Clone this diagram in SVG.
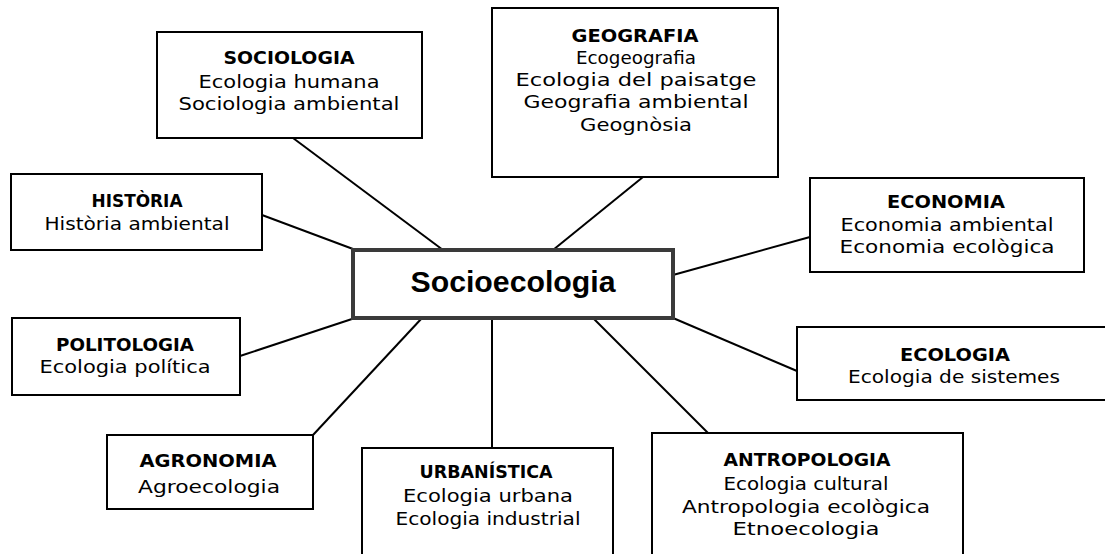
<svg xmlns="http://www.w3.org/2000/svg" width="1105" height="554" viewBox="0 0 1105 554">
<style>
.box{fill:#fff;stroke:#000;stroke-width:2}
.main{fill:#fff;stroke:#3a3a3a;stroke-width:4}
.t{font-family:"DejaVu Sans",sans-serif;font-size:18px;font-weight:bold;text-anchor:middle;fill:#000}
.l{font-family:"DejaVu Sans",sans-serif;font-size:18px;text-anchor:middle;fill:#000}
.c{font-family:"Liberation Sans",Arial,sans-serif;font-size:30px;font-weight:bold;text-anchor:middle;fill:#000}
.conn line{stroke:#000;stroke-width:2}
</style>
<rect width="1105" height="554" fill="#fff"/>
<g class="conn" id="connectors">
<line x1="293" y1="138" x2="443" y2="250"/>
<line x1="262" y1="215" x2="353" y2="249"/>
<line x1="643" y1="177" x2="553" y2="250"/>
<line x1="673" y1="275" x2="810" y2="237"/>
<line x1="673" y1="318" x2="797" y2="371"/>
<line x1="593" y1="318" x2="708" y2="433"/>
<line x1="492" y1="318" x2="492" y2="448"/>
<line x1="422" y1="318" x2="313" y2="435"/>
<line x1="240" y1="356" x2="355" y2="318"/>
</g>
<g id="socioecologia">
<rect class="main" x="353" y="250" width="320" height="68"/>
<text class="c" x="513" y="292" textLength="205" lengthAdjust="spacingAndGlyphs">Socioecologia</text>
</g>
<g id="sociologia">
<rect class="box" x="157" y="32" width="265" height="106"/>
<text class="t" x="289" y="64" textLength="131" lengthAdjust="spacingAndGlyphs">SOCIOLOGIA</text>
<text class="l" x="289" y="88" textLength="181" lengthAdjust="spacingAndGlyphs">Ecologia humana</text>
<text class="l" x="289" y="110" textLength="221" lengthAdjust="spacingAndGlyphs">Sociologia ambiental</text>
</g>
<g id="historia">
<rect class="box" x="11" y="174" width="251" height="76"/>
<text class="t" x="137" y="207" textLength="91" lengthAdjust="spacingAndGlyphs">HISTÒRIA</text>
<text class="l" x="137" y="230" textLength="185" lengthAdjust="spacingAndGlyphs">Història ambiental</text>
</g>
<g id="geografia">
<rect class="box" x="492" y="8" width="286" height="169"/>
<text class="t" x="635" y="42" textLength="127" lengthAdjust="spacingAndGlyphs">GEOGRAFIA</text>
<text class="l" x="636" y="64" textLength="120" lengthAdjust="spacingAndGlyphs">Ecogeografia</text>
<text class="l" x="636" y="86" textLength="241" lengthAdjust="spacingAndGlyphs">Ecologia del paisatge</text>
<text class="l" x="636" y="108" textLength="225" lengthAdjust="spacingAndGlyphs">Geografia ambiental</text>
<text class="l" x="636" y="131" textLength="112" lengthAdjust="spacingAndGlyphs">Geognòsia</text>
</g>
<g id="economia">
<rect class="box" x="810" y="178" width="274" height="94"/>
<text class="t" x="946" y="208" textLength="118" lengthAdjust="spacingAndGlyphs">ECONOMIA</text>
<text class="l" x="947" y="231" textLength="213" lengthAdjust="spacingAndGlyphs">Economia ambiental</text>
<text class="l" x="947" y="253" textLength="215" lengthAdjust="spacingAndGlyphs">Economia ecològica</text>
</g>
<g id="ecologia">
<rect class="box" x="797" y="327" width="320" height="73"/>
<text class="t" x="955" y="361" textLength="110" lengthAdjust="spacingAndGlyphs">ECOLOGIA</text>
<text class="l" x="954" y="383" textLength="212" lengthAdjust="spacingAndGlyphs">Ecologia de sistemes</text>
</g>
<g id="politologia">
<rect class="box" x="12" y="318" width="228" height="77"/>
<text class="t" x="125" y="351" textLength="138" lengthAdjust="spacingAndGlyphs">POLITOLOGIA</text>
<text class="l" x="125" y="373" textLength="171" lengthAdjust="spacingAndGlyphs">Ecologia política</text>
</g>
<g id="agronomia">
<rect class="box" x="107" y="435" width="206" height="74"/>
<text class="t" x="208" y="467" textLength="137" lengthAdjust="spacingAndGlyphs">AGRONOMIA</text>
<text class="l" x="209" y="493" textLength="142" lengthAdjust="spacingAndGlyphs">Agroecologia</text>
</g>
<g id="urbanistica">
<rect class="box" x="362" y="448" width="251" height="130"/>
<text class="t" x="486" y="478" textLength="133" lengthAdjust="spacingAndGlyphs">URBANÍSTICA</text>
<text class="l" x="488" y="502" textLength="170" lengthAdjust="spacingAndGlyphs">Ecologia urbana</text>
<text class="l" x="488" y="525" textLength="185" lengthAdjust="spacingAndGlyphs">Ecologia industrial</text>
</g>
<g id="antropologia">
<rect class="box" x="652" y="433" width="311" height="140"/>
<text class="t" x="807" y="466" textLength="167" lengthAdjust="spacingAndGlyphs">ANTROPOLOGIA</text>
<text class="l" x="806" y="490" textLength="165" lengthAdjust="spacingAndGlyphs">Ecologia cultural</text>
<text class="l" x="806" y="513" textLength="248" lengthAdjust="spacingAndGlyphs">Antropologia ecològica</text>
<text class="l" x="806" y="535" textLength="147" lengthAdjust="spacingAndGlyphs">Etnoecologia</text>
</g>
</svg>
